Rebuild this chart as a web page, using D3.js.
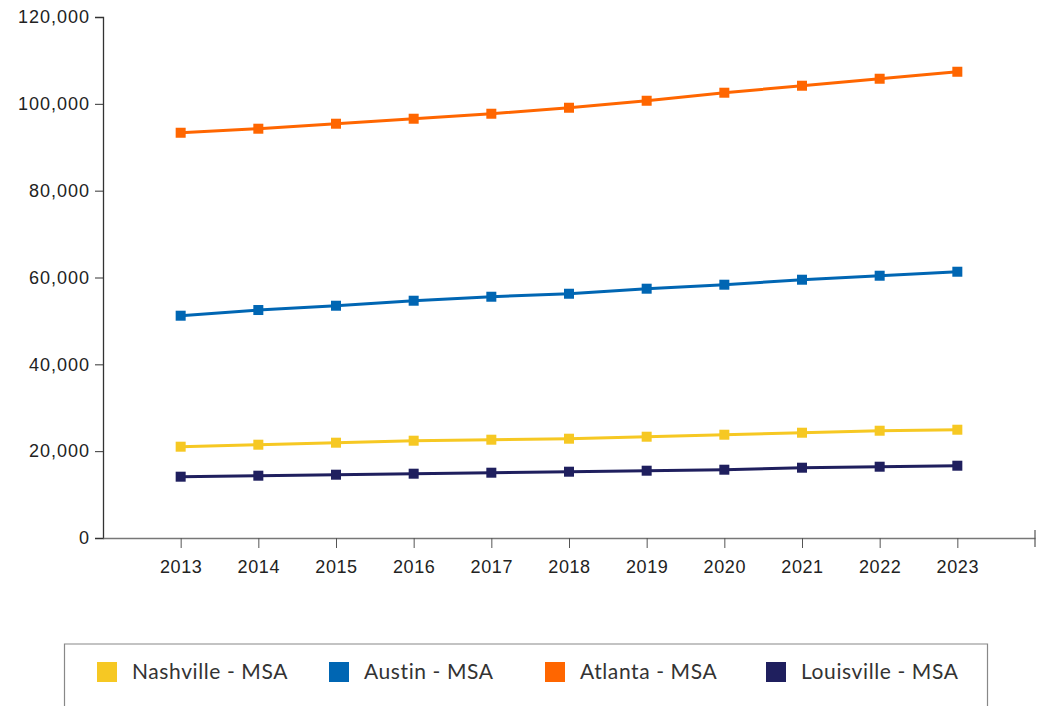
<!DOCTYPE html>
<html><head><meta charset="utf-8">
<script src="https://cdn.jsdelivr.net/npm/d3@7"></script>
<style>
html,body{margin:0;padding:0;background:#fff;}
svg{display:block;font-family:Lato, "Open Sans", sans-serif;}
</style></head>
<body>
<svg id="chart" width="1045" height="706"></svg>
<script>
const years = ["2013","2014","2015","2016","2017","2018","2019","2020","2021","2022","2023"];
const seriesNames = ["Nashville - MSA","Austin - MSA","Atlanta - MSA","Louisville - MSA"];
const seriesColors = ["#F6C823","#0066B3","#FF6600","#1F1F5E"];
const nashville = [21030,21490,21950,22410,22640,22870,23330,23790,24250,24710,24940];
const austin = [51200,52510,53500,54650,55570,56260,57420,58340,59490,60410,61330];
const atlanta = [93340,94270,95420,96570,97720,99100,100710,102560,104170,105780,107390];
const louisville = [14120,14350,14580,14810,15040,15270,15500,15730,16190,16420,16650];
const yTicks = [0,20000,40000,60000,80000,100000,120000];

(function(){
const seriesData = [nashville, austin, atlanta, louisville];
const svg = d3.select("#chart");
const mLeft = 103, mRight = 1035, mTop = 17, mBottom = 538;

// positions: one slot per year plus an extra start and end slot
const x = d3.scalePoint().domain(["", ...years, " "]).range([mLeft, mRight]);
const y = d3.scaleLinear().domain([0,120000]).range([mBottom, mTop]);

// y axis
const yAxis = svg.append("g").attr("transform",`translate(${mLeft},0)`)
  .call(d3.axisLeft(y).tickValues(yTicks).tickSize(8).tickPadding(5).tickFormat(d3.format(",")));
yAxis.select(".domain").attr("stroke","#333").attr("stroke-width",1.3);
yAxis.selectAll(".tick line").attr("stroke","#333");
yAxis.selectAll("text").attr("font-size",18).attr("letter-spacing",1).attr("fill","#222");

// x axis
const xAxis = svg.append("g").attr("transform",`translate(0,${mBottom})`)
  .call(d3.axisBottom(x).tickValues(years).tickSize(10).tickPadding(12).tickSizeOuter(0));
xAxis.select(".domain").attr("stroke","#777").attr("stroke-width",1.5);
xAxis.selectAll(".tick line").attr("stroke","#555");
xAxis.selectAll("text").attr("font-size",18).attr("letter-spacing",0.6).attr("fill","#222");
svg.append("line").attr("x1",mRight).attr("x2",mRight).attr("y1",mBottom-8).attr("y2",mBottom+9)
  .attr("stroke","#555").attr("stroke-width",1.2);

// lines
const line = d3.line().x((d,i)=>x(years[i])).y(d=>y(d));
seriesData.forEach((s,k)=>{
  svg.append("path").datum(s).attr("d",line).attr("fill","none")
    .attr("stroke",seriesColors[k]).attr("stroke-width",3);
  svg.append("g").selectAll("rect").data(s).join("rect")
    .attr("x",(d,i)=>x(years[i])-5).attr("y",d=>y(d)-5)
    .attr("width",10).attr("height",10).attr("fill",seriesColors[k]);
});

// legend
const lg = svg.append("g");
lg.append("path").attr("d",`M64.5,706 V644 H987.5 V706`).attr("fill","none")
  .attr("stroke","#888").attr("stroke-width",1.2);
const legX = [97, 329, 545, 766];
seriesNames.forEach((n,k)=>{
  lg.append("rect").attr("x",legX[k]).attr("y",662).attr("width",20).attr("height",20).attr("fill",seriesColors[k]);
  lg.append("text").attr("x",legX[k]+35).attr("y",679).attr("font-size",21).attr("letter-spacing",0.6).attr("fill","#333").text(n);
});
})();
</script>
</body></html>
